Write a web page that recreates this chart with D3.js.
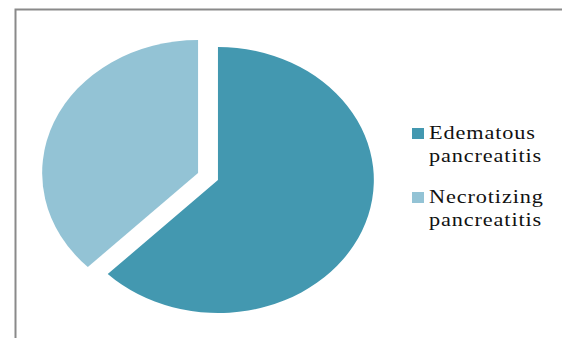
<!DOCTYPE html>
<html><head><meta charset="utf-8">
<script src="https://cdn.jsdelivr.net/npm/d3@7"></script>
<style>html,body{margin:0;padding:0;background:#fff;}svg{display:block;}
.lt{font-family:"Times New Roman","Liberation Serif",Times,serif;}</style>
</head><body>
<svg id="chart" width="562" height="338"></svg>
<script>
const categories = ["Edematous pancreatitis", "Necrotizing pancreatitis"];
const values = [62.5, 37.5];
const legendLines = [["Edematous", "pancreatitis"], ["Necrotizing", "pancreatitis"]];
const colors = ["#4398B0", "#93C3D5"];

const svg = d3.select("#chart");
// frame
svg.append("path").attr("d", "M15.5,338 V9.5 H562")
  .attr("fill", "none").attr("stroke", "#8a8a8a").attr("stroke-width", 2);

const r = 133, sx = 1.172, explode = 9.2;
const g = svg.append("g").attr("transform", `translate(208,176.5) scale(${sx},1)`);
const pie = d3.pie().sort(null).value(d => d)(values);
const arc = d3.arc().innerRadius(0).outerRadius(r);
g.selectAll("path").data(pie).join("path")
  .attr("d", arc)
  .attr("fill", (d, i) => colors[i])
  .attr("transform", d => {
    const a = (d.startAngle + d.endAngle) / 2;
    return `translate(${Math.sin(a) * explode},${-Math.cos(a) * explode})`;
  });

const leg = svg.append("g").attr("transform", "translate(412,0)");
const y0 = [139, 203];
categories.forEach((c, i) => {
  leg.append("rect").attr("x", 0).attr("y", y0[i] - 11).attr("width", 12).attr("height", 11)
    .attr("fill", colors[i]);
  legendLines[i].forEach((t, j) => {
    leg.append("text").attr("class", "lt")
      .attr("transform", `translate(17,${y0[i] + j * 23}) scale(${sx},1)`)
      .attr("font-size", 19).attr("letter-spacing", 0.75)
      .attr("fill", "#111").text(t);
  });
});
</script>
</body></html>
